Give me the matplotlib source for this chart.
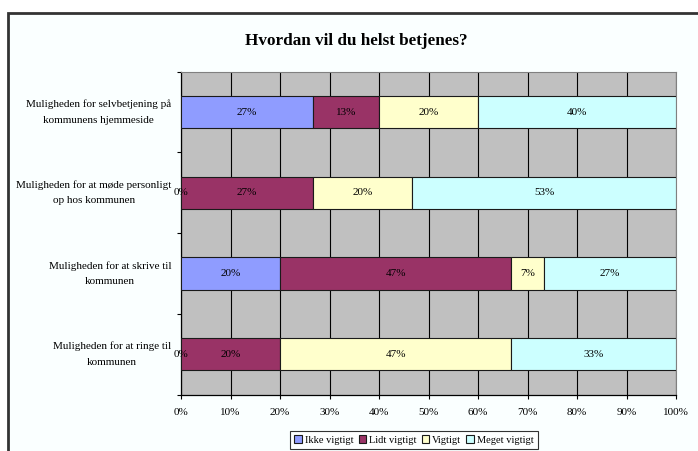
import matplotlib.pyplot as plt
from matplotlib.patches import Rectangle, Patch
import numpy as np

plt.rcParams['font.family'] = ['Liberation Serif', 'DejaVu Serif']

categories = ["Muligheden for selvbetjening på\nkommunens hjemmeside",
              "Muligheden for at møde personligt\nop hos kommunen",
              "Muligheden for at skrive til\nkommunen",
              "Muligheden for at ringe til\nkommunen"]
series = ["Ikke vigtigt", "Lidt vigtigt", "Vigtigt", "Meget vigtigt"]
ikke = [26.67, 0.0, 20.0, 0.0]
lidt = [13.33, 26.67, 46.67, 20.0]
vigtigt = [20.0, 20.0, 6.67, 46.67]
meget = [40.0, 53.33, 26.67, 33.33]
xticks = ["0%", "10%", "20%", "30%", "40%", "50%", "60%", "70%", "80%", "90%", "100%"]

colors = ["#8F9CFF", "#993366", "#FFFFCC", "#CCFFFF"]

fig = plt.figure(figsize=(6.98, 4.51), dpi=100)
fig.patch.set_facecolor("white")
# chart area frame
fig.patches.append(Rectangle((8/698, -0.05), 1.0, 1 - 12.5/451 + 0.05,
                             transform=fig.transFigure, facecolor="#FAFFFF",
                             edgecolor="#333333", linewidth=2, zorder=-10))

ax = fig.add_axes([181/698, 1 - 394.5/451, 495/698, 322.8/451])
ax.set_facecolor("#C0C0C0")

y = np.arange(len(categories))
left = np.zeros(len(categories))
for name, vals, c in zip(series, [ikke, lidt, vigtigt, meget], colors):
    vals = np.array(vals)
    ax.barh(y, vals, left=left, height=0.4, color=c, edgecolor="#1a1a1a",
            linewidth=0.8, label=name, zorder=3)
    for yi, l, v in zip(y, left, vals):
        ax.text(l + v / 2, yi, f"{v:.0f}%", ha="center", va="center",
                fontsize=8, color="black", zorder=4)
    left += vals

ax.set_xlim(0, 100)
ax.set_ylim(3.5, -0.5)
ax.set_xticks(np.arange(0, 101, 10))
ax.set_xticklabels(xticks, fontsize=8)
ax.tick_params(axis="x", length=3, width=0.8, pad=7)
ax.set_yticks(y)
ax.set_yticklabels(categories, fontsize=8, va="center")
for t in ax.get_yticklabels():
    t.set_multialignment("center")
    t.set_linespacing(1.9)
ax.tick_params(axis="y", which="major", length=0, pad=7)
ax.set_yticks(np.arange(-0.5, 4, 1), minor=True)
ax.tick_params(axis="y", which="minor", length=3, width=0.8)

ax.grid(axis="x", color="black", linewidth=0.8, zorder=1)
ax.set_axisbelow(True)
for s in ["top", "right"]:
    ax.spines[s].set_color("#808080")
for s in ["left", "bottom"]:
    ax.spines[s].set_color("black")
    ax.spines[s].set_linewidth(0.9)

fig.text(356.7/698, 1 - 41/451, "Hvordan vil du helst betjenes?",
         ha="center", va="center", fontsize=12.3, fontweight="bold")

handles = [Patch(facecolor=c, edgecolor="#1a1a1a", linewidth=0.8) for c in colors]
leg = fig.legend(handles, series, loc="upper center", ncol=4,
                 bbox_to_anchor=(414/698, 1 - 426/451), fontsize=7.5,
                 frameon=True, fancybox=False, handlelength=0.7,
                 handleheight=0.7, handletextpad=0.3, columnspacing=0.5,
                 borderpad=0.4)
leg.get_frame().set_edgecolor("black")
leg.get_frame().set_linewidth(0.8)

fig.savefig("out.png", dpi=100)
